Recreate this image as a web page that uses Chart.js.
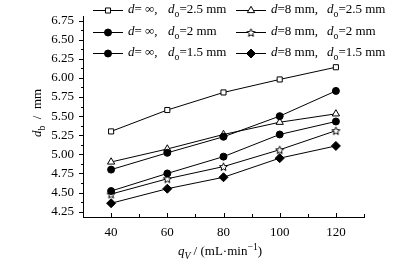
<!DOCTYPE html>
<html>
<head>
<meta charset="utf-8">
<script src="https://cdn.jsdelivr.net/npm/chart.js@4/dist/chart.umd.min.js"></script>
<style>
  html, body { margin: 0; padding: 0; background: #fff; }
  #wrap { width: 404px; height: 263px; }
</style>
</head>
<body>
<div id="wrap"><canvas id="dbChart" width="404" height="263"></canvas></div>
<script>
const FONT = '"Liberation Serif", "Times New Roman", serif';

// data
const qV = [40, 60, 80, 100, 120];
const dInf_25 = [5.30, 5.58, 5.81, 5.98, 6.14];
const dInf_20 = [4.80, 5.02, 5.23, 5.50, 5.83];
const dInf_15 = [4.52, 4.75, 4.97, 5.26, 5.43];
const d8_25 = [4.90, 5.07, 5.26, 5.42, 5.53];
const d8_20 = [4.48, 4.68, 4.84, 5.06, 5.31];
const d8_15 = [4.36, 4.55, 4.70, 4.95, 5.11];

const dLabels = ["\u221E", "\u221E", "\u221E", "8", "8", "8"];
const doLabels = ["2.5", "2", "1.5", "2.5", "2", "1.5"];
const xTickValues = [40, 60, 80, 100, 120];
const yTickValues = [4.25, 4.5, 4.75, 5.0, 5.25, 5.5, 5.75, 6.0, 6.25, 6.5, 6.75];

// open five point star as a point image
function starImage(r) {
    const c = document.createElement("canvas");
    const s = Math.ceil(r * 2 + 2);
    c.width = s; c.height = s;
    const g = c.getContext("2d");
    g.translate(s / 2, s / 2 + 0.5);
    g.beginPath();
    for (let i = 0; i < 10; i++) {
        const rr = i % 2 === 0 ? r : r * 0.45;
        const a = -Math.PI / 2 + i * Math.PI / 5;
        g.lineTo(rr * Math.cos(a), rr * Math.sin(a));
    }
    g.closePath();
    g.fillStyle = "#fff";
    g.fill();
    g.strokeStyle = "#000";
    g.lineWidth = 1;
    g.stroke();
    return c;
}
const star = starImage(4.2);

function series(data, style, fill, radius) {
    return {
        data: data.map((v, i) => ({ x: qV[i], y: v })),
        borderColor: "#000",
        borderWidth: 1,
        pointStyle: style,
        pointRadius: radius,
        pointBorderWidth: 1,
        pointBorderColor: "#000",
        pointBackgroundColor: fill,
        tension: 0
    };
}

const datasets = [
    series(dInf_25, "rect", "#fff", 3.6),
    series(dInf_20, "circle", "#000", 3.5),
    series(dInf_15, "circle", "#000", 3.5),
    series(d8_25, "triangle", "#fff", 4.2),
    series(d8_20, star, "#fff", 4.2),
    series(d8_15, "rectRot", "#000", 4.5)
];

function drawRich(ctx, x, y, parts, size) {
    for (const [t, s] of parts) {
        const small = s === "sub" || s === "sup" || s === "isub";
        const sz = small ? size * 0.75 : size;
        const it = s === "i" || s === "isub";
        ctx.font = (it ? "italic " : "") + sz + "px " + FONT;
        let dy = 0;
        if (s === "sub" || s === "isub") dy = size * 0.32;
        if (s === "sup") dy = -size * 0.38;
        ctx.fillText(t, x, y + dy);
        x += ctx.measureText(t).width;
    }
    return x;
}

function richWidth(ctx, parts, size) {
    let w = 0;
    for (const [t, s] of parts) {
        const small = s === "sub" || s === "sup" || s === "isub";
        const it = s === "i" || s === "isub";
        ctx.font = (it ? "italic " : "") + (small ? size * 0.75 : size) + "px " + FONT;
        w += ctx.measureText(t).width;
    }
    return w;
}

const decorPlugin = {
    id: "decor",
    afterDraw(chart) {
        const ctx = chart.ctx;
        const xs = chart.scales.x, ys = chart.scales.y;
        const area = chart.chartArea;
        ctx.save();
        ctx.strokeStyle = "#000";
        ctx.fillStyle = "#000";
        ctx.lineWidth = 1;

        // y ticks, outward, with minor ticks
        for (let v = 4.25; v <= 6.76; v += 0.125) {
            const major = Math.abs((v * 4) - Math.round(v * 4)) < 1e-6;
            const py = Math.round(ys.getPixelForValue(v)) + 0.5;
            ctx.beginPath();
            ctx.moveTo(area.left, py);
            ctx.lineTo(area.left - (major ? 4 : 2), py);
            ctx.stroke();
        }
        // x ticks, inward, with minor ticks
        for (let v = 30; v <= 130; v += 10) {
            const major = v % 20 === 0;
            const px = Math.round(xs.getPixelForValue(v)) + 0.5;
            ctx.beginPath();
            ctx.moveTo(px, area.bottom);
            ctx.lineTo(px, area.bottom - (major ? 4 : 3));
            ctx.stroke();
        }

        // legend
        ctx.textBaseline = "middle";
        ctx.textAlign = "left";
        const cols = [{ x0: 93, dx: 168 }, { x0: 236, dx: 327 }];
        const rows = [10, 32, 53];
        chart.data.datasets.forEach((ds, i) => {
            const col = cols[Math.floor(i / 3)];
            const y = rows[i % 3];
            ctx.strokeStyle = "#000";
            ctx.lineWidth = 1;
            ctx.beginPath();
            ctx.moveTo(col.x0, y + 0.5);
            ctx.lineTo(col.x0 + 30, y + 0.5);
            ctx.stroke();
            ctx.fillStyle = ds.pointBackgroundColor;
            Chart.helpers.drawPoint(ctx, {
                pointStyle: ds.pointStyle, radius: ds.pointRadius, rotation: 0, borderWidth: 1
            }, col.x0 + 15, y + 0.5);
            ctx.fillStyle = "#000";
            const dTxt = dLabels[i] === "8" ? "=8 mm," : "= " + dLabels[i] + ",";
            drawRich(ctx, col.x0 + 35, y, [["d", "i"], [dTxt, ""]], 13);
            drawRich(ctx, col.dx, y, [["d", "i"], ["o", "sub"], ["=" + doLabels[i] + " mm", ""]], 13);
        });

        // axis titles
        const xt = [["q", "i"], ["V", "isub"], [" / (mL\u00B7min", ""], ["\u22121", "sup"], [")", ""]];
        const xw = richWidth(ctx, xt, 13);
        drawRich(ctx, 220 - xw / 2, 252, xt, 13);

        const yt = [["d", "i"], ["b", "sub"], ["  /  mm", ""]];
        const yw = richWidth(ctx, yt, 13);
        ctx.translate(38, 113);
        ctx.rotate(-Math.PI / 2);
        drawRich(ctx, -yw / 2, 0, yt, 13);
        ctx.restore();
    }
};

new Chart(document.getElementById("dbChart").getContext("2d"), {
    type: "line",
    data: { datasets: datasets },
    options: {
        responsive: false,
        animation: false,
        layout: { padding: { top: 15, right: 40, left: 0, bottom: 0 } },
        plugins: { legend: { display: false }, tooltip: { enabled: false } },
        scales: {
            x: {
                type: "linear",
                min: 30, max: 130,
                afterBuildTicks: s => { s.ticks = xTickValues.map(v => ({ value: v })); },
                afterFit: s => { s.height = 46; },
                grid: { display: false, drawTicks: false },
                border: { display: true, color: "#000", width: 1 },
                ticks: { color: "#000", padding: 8, font: { family: FONT, size: 13 }, maxRotation: 0 }
            },
            y: {
                min: 4.18, max: 6.80,
                afterBuildTicks: s => { s.ticks = yTickValues.map(v => ({ value: v })); },
                afterFit: s => { s.width = 83; },
                grid: { display: false, drawTicks: false },
                border: { display: true, color: "#000", width: 1 },
                ticks: {
                    color: "#000", padding: 9, font: { family: FONT, size: 13 },
                    callback: v => v.toFixed(2)
                }
            }
        }
    },
    plugins: [decorPlugin]
});
</script>
</body>
</html>
